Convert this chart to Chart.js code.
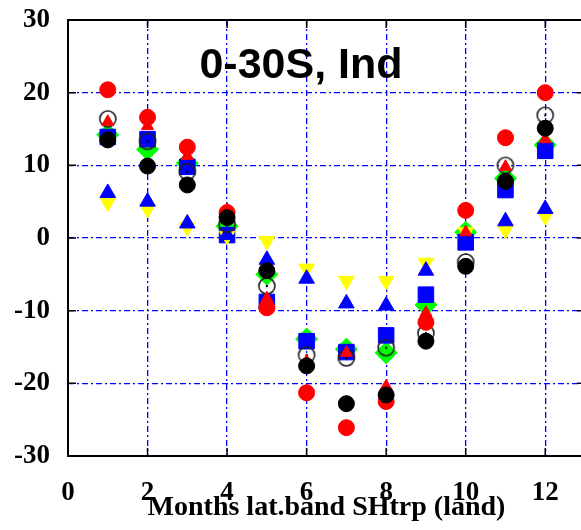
<!DOCTYPE html>
<html>
<head>
<meta charset="utf-8">
<script src="https://cdn.jsdelivr.net/npm/chart.js@4/dist/chart.umd.min.js"></script>
<style>
html,body{margin:0;padding:0;overflow:hidden;background:#fff;}
#wrap{width:600px;height:530px;}
</style>
</head>
<body>
<div id="wrap"><canvas id="c" width="600" height="530"></canvas></div>
<script>
// ---- data ----
const months = [1,2,3,4,5,6,7,8,9,10,11,12];
const xTickValues = [0,2,4,6,8,10,12];
const yTickValues = [-30,-20,-10,0,10,20,30];
const chartTitle = "0-30S, Ind";
const xAxisTitle = "Months lat.band SHtrp (land)";

const redCircle     = [20.4, 16.6, 12.5, 3.5, -9.6, -21.3, -26.1, -22.5, -11.6, 3.8, 13.8, 20.0];
const redTriangle   = [16.0, 15.4, 11.3, 3.9, -8.3, -17.0, -15.8, -20.4, -10.3, 0.8, 9.8, 13.6];
const blackCircle   = [13.5, 9.9, 7.3, 2.8, -4.5, -17.6, -22.8, -21.6, -14.2, -3.9, 7.8, 15.1];
const openCircle    = [16.4, 13.3, 9.1, 1.9, -6.6, -16.1, -16.5, -15.1, -13.1, -3.3, 10.0, 16.9];
const blueTriangle  = [6.2, 5.0, 2.0, 0.4, -3.0, -5.6, -9.0, -9.3, -4.5, -0.2, 2.3, 4.0];
const yellowTriangle= [4.9, 4.0, 1.5, 0.3, -0.4, -4.2, -5.9, -5.9, -3.4, 0.8, 1.1, 3.0];
const blueSquare    = [13.9, 13.6, 9.8, 0.4, -8.8, -14.2, -15.7, -13.4, -7.8, -0.6, 6.6, 12.0];
const greenDiamond  = [14.2, 12.2, 10.3, 1.6, -5.0, -13.9, -15.3, -15.8, -9.2, 0.8, 8.2, 12.8];

function pts(arr){ return arr.map((v,i)=>({x:months[i], y:v})); }

// open circle marker with centre dot
const openImg = document.createElement('canvas');
openImg.width = 20; openImg.height = 20;
(function(){
  const g = openImg.getContext('2d');
  g.strokeStyle = '#222'; g.lineWidth = 1.6;
  g.beginPath(); g.arc(10,10,8,0,Math.PI*2); g.stroke();
  g.fillStyle = '#000';
  g.beginPath(); g.arc(10,10,1.2,0,Math.PI*2); g.fill();
})();

function ds(label, data, style, color, radius, order, extra){
  return Object.assign({
    label: label, data: pts(data), showLine:false, pointStyle: style,
    pointRadius: radius, pointHoverRadius: radius,
    backgroundColor: color, borderColor: color, pointBorderWidth: 1,
    order: order
  }, extra||{});
}

const datasets = [
  ds('black filled', blackCircle, 'circle', '#000000', 8, 1),
  ds('red triangle', redTriangle, 'triangle', '#ff0000', 7, 2),
  ds('red circle', redCircle, 'circle', '#ff0000', 8, 3),
  ds('open circle', openCircle, openImg, '#000000', 8, 4),
  ds('blue triangle', blueTriangle, 'triangle', '#0000ff', 9, 5),
  ds('yellow triangle', yellowTriangle, 'triangle', '#ffff00', 9, 6, {pointRotation:180}),
  ds('blue square', blueSquare, 'rect', '#0000ff', 11, 7),
  ds('green diamond', greenDiamond, 'rectRot', '#00ff00', 11, 8),
];

const framePlugin = {
  id:'frame',
  afterDatasetsDraw(chart){
    const {ctx, chartArea:a, scales} = chart;
    ctx.save();
    ctx.setLineDash([]);
    ctx.strokeStyle = '#000'; ctx.lineWidth = 1.5;
    ctx.beginPath();
    xTickValues.forEach(v=>{
      if (v<=0) return;
      const x = scales.x.getPixelForValue(v);
      ctx.moveTo(x, a.bottom); ctx.lineTo(x, a.bottom-8);
      ctx.moveTo(x, a.top); ctx.lineTo(x, a.top+8);
    });
    yTickValues.forEach(v=>{
      const y = scales.y.getPixelForValue(v);
      ctx.moveTo(a.left, y); ctx.lineTo(a.left+8, y);
      ctx.moveTo(a.right, y); ctx.lineTo(a.right-8, y);
    });
    ctx.stroke();
    ctx.lineWidth = 2;
    ctx.strokeRect(a.left, a.top, a.right-a.left, a.bottom-a.top);
    ctx.restore();
  }
};

const innerTitle = {
  id:'innerTitle',
  afterDraw(chart, args, opts){
    const ctx = chart.ctx;
    ctx.save();
    ctx.font = 'bold 43px "Liberation Sans", Arial, sans-serif';
    ctx.fillStyle = '#000';
    ctx.textAlign = 'center';
    ctx.textBaseline = 'middle';
    ctx.fillText(opts.text, opts.x, opts.y);
    ctx.restore();
  }
};

const tickFont = {family:'"Liberation Serif", "Times New Roman", serif', size:27, weight:'bold'};
const titleFont = {family:'"Liberation Serif", "Times New Roman", serif', size:28, weight:'bold'};

new Chart(document.getElementById('c'), {
  type:'scatter',
  data:{datasets},
  plugins:[framePlugin, innerTitle],
  options:{
    responsive:false, animation:false,
    layout:{padding:{left:0, top:20, right:15, bottom:0}},
    plugins:{
      legend:{display:false}, tooltip:{enabled:false},
      innerTitle:{text: chartTitle, x: 301, y: 66}
    },
    scales:{
      x:{
        type:'linear', min:0, max:13,
        afterBuildTicks(s){ s.ticks = xTickValues.map(v=>({value:v})); },
        afterFit(s){ s.height = 74; s.paddingLeft = 0; s.paddingRight = 0; },
        grid:{
          drawTicks:false,
          color: c => (c.tick && (c.tick.value===0)) ? 'rgba(0,0,0,0)' : '#0000ff',
          lineWidth:1.3
        },
        border:{display:false, dash:[6,3,2,3]},
        ticks:{font:tickFont, color:'#000', padding:21, maxRotation:0, autoSkip:false},
        title:{display:true, text:xAxisTitle, font:titleFont, color:'#000', padding:{top:0,bottom:5}}
      },
      y:{
        type:'linear', min:-30, max:30,
        afterBuildTicks(s){ s.ticks = yTickValues.map(v=>({value:v})); },
        afterFit(s){ s.width = 68; s.paddingTop = 0; s.paddingBottom = 0; },
        grid:{
          drawTicks:false,
          color: c => (c.tick && Math.abs(c.tick.value)===30) ? 'rgba(0,0,0,0)' : '#0000ff',
          lineWidth:1.3
        },
        border:{display:false, dash:[6,3,2,3]},
        ticks:{font:tickFont, color:'#000', padding:18}
      }
    }
  }
});
</script>
</body>
</html>
